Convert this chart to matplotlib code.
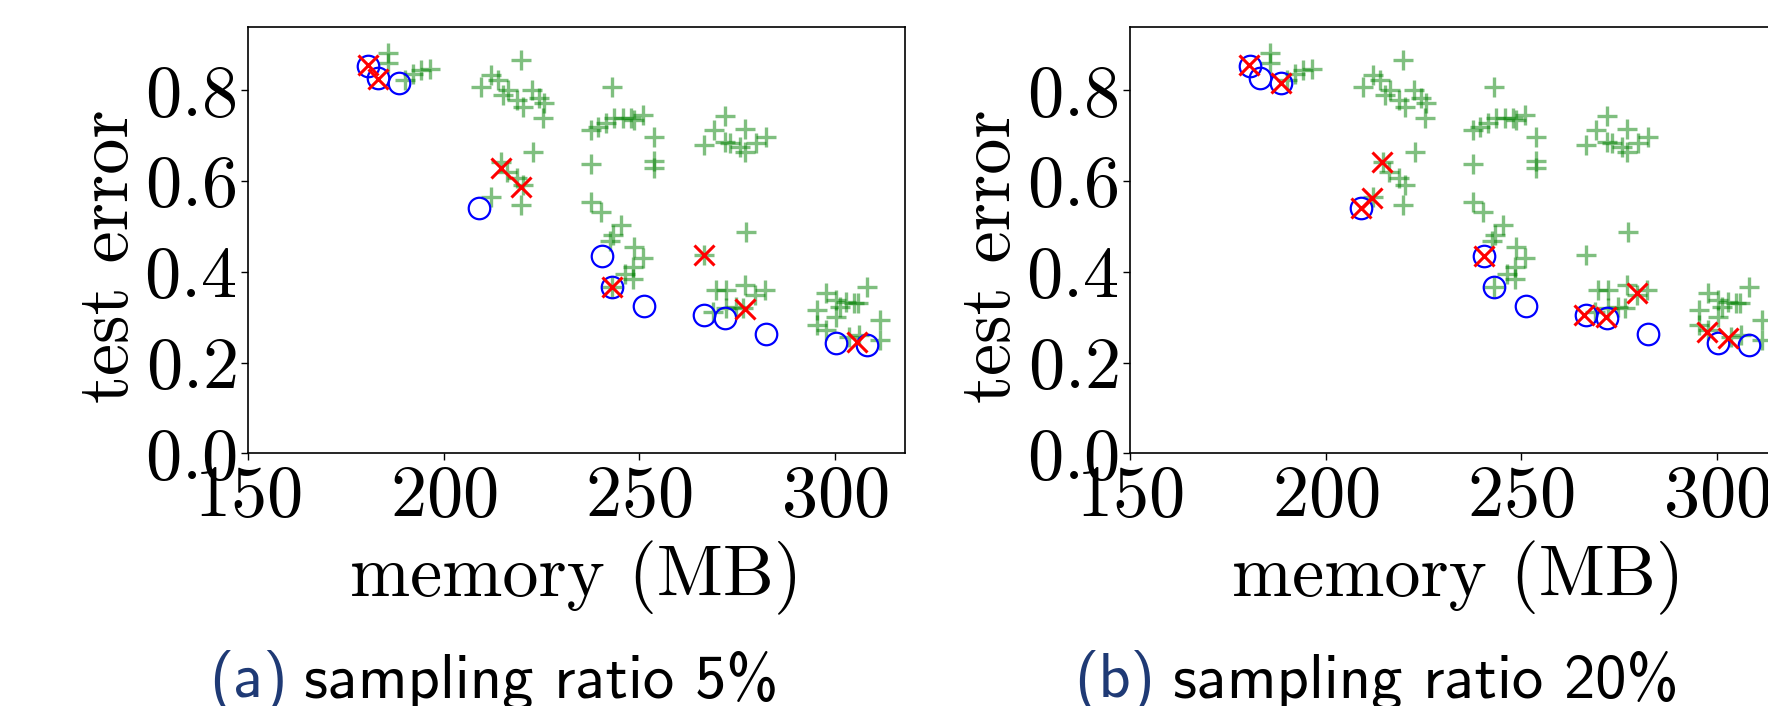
import matplotlib
matplotlib.use("Agg")
import matplotlib.pyplot as plt

# ---- data ----
green_mem = [185.8, 185.8, 192.2, 194.3, 196.6, 190.1,
             219.9, 209.5, 212.1, 213.8, 215.1, 216.4, 218.9, 220.2, 222.7, 224.4, 225.7, 225.5,
             222.8, 214.6, 216.2, 218.8, 220.3, 219.9, 212.2,
             243.1, 237.7, 239.4, 241.5, 243.7, 245.8, 247.9, 248.8, 251.0, 253.9, 253.9, 253.9, 237.7,
             237.7, 240.3, 245.4, 243.3, 242.5, 248.8, 250.9, 248.4, 246.3, 248.4, 243.1,
             271.9, 269.1, 266.5, 271.9, 273.3, 277.2, 277.2, 275.7, 279.9, 282.5,
             277.4, 266.5, 269.7, 272.3, 277.1, 279.7, 282.2, 272.3, 274.8, 268.8, 276.7,
             297.8, 300.3, 302.9, 305.9, 308.4, 295.6, 300.3, 295.6, 297.9, 303.8, 306.3, 311.7, 311.7, 301.3, 305.0]
green_err = [0.881, 0.859, 0.835, 0.844, 0.846, 0.822,
             0.866, 0.807, 0.833, 0.822, 0.789, 0.800, 0.778, 0.763, 0.800, 0.782, 0.771, 0.738,
             0.664, 0.642, 0.620, 0.606, 0.591, 0.547, 0.565,
             0.806, 0.712, 0.719, 0.727, 0.738, 0.738, 0.738, 0.734, 0.745, 0.697, 0.644, 0.628, 0.637,
             0.554, 0.532, 0.503, 0.481, 0.468, 0.455, 0.430, 0.411, 0.396, 0.385, 0.366,
             0.743, 0.712, 0.679, 0.686, 0.684, 0.714, 0.664, 0.675, 0.683, 0.696,
             0.488, 0.437, 0.360, 0.360, 0.371, 0.349, 0.360, 0.319, 0.323, 0.312, 0.320,
             0.352, 0.338, 0.334, 0.330, 0.367, 0.316, 0.301, 0.283, 0.272, 0.257, 0.261, 0.294, 0.250, 0.323, 0.330]

blue_mem = [180.6, 183.3, 188.7, 209.1, 240.5, 243.1, 251.2, 266.5, 271.9, 282.5, 300.4, 308.4]
blue_err = [0.854, 0.826, 0.815, 0.540, 0.435, 0.366, 0.324, 0.304, 0.297, 0.262, 0.244, 0.239]

red5_mem = [180.6, 183.2, 214.6, 219.9, 243.1, 266.5, 277.1, 305.7]
red5_err = [0.855, 0.825, 0.628, 0.587, 0.366, 0.437, 0.318, 0.246]

red20_mem = [180.4, 188.5, 214.5, 211.8, 209.1, 240.4, 266.2, 271.6, 279.7, 297.5, 302.8]
red20_err = [0.855, 0.815, 0.642, 0.562, 0.540, 0.435, 0.304, 0.300, 0.354, 0.268, 0.253]

x_ticks = [150, 200, 250, 300]
y_ticks = [0.0, 0.2, 0.4, 0.6, 0.8]
captions = [("(a)", "sampling ratio 5%"), ("(b)", "sampling ratio 20%")]

plt.rcParams['font.family'] = ['cmr10']
plt.rcParams['axes.formatter.use_mathtext'] = True
plt.rcParams['mathtext.fontset'] = 'cm'

W, H = 1768, 706
fig = plt.figure(figsize=(W / 100, H / 100), dpi=100)

ax_w = 657 / W
ax_h = 426.3 / H
ax_b = (H - 453.3) / H
lefts = [248 / W, 1130 / W]
reds = [(red5_mem, red5_err), (red20_mem, red20_err)]
cap_pos = [(209.5, 304), (1074, 1173)]

for i in range(2):
    ax = fig.add_axes([lefts[i], ax_b, ax_w, ax_h])
    ax.plot(green_mem, green_err, linestyle='none', marker='+', color='green',
            alpha=0.5, markersize=15, markeredgewidth=2.4)
    ax.plot(blue_mem, blue_err, linestyle='none', marker='o', markerfacecolor='none',
            markeredgecolor='blue', markersize=15.5, markeredgewidth=1.6)
    ax.plot(reds[i][0], reds[i][1], linestyle='none', marker='x', color='red',
            markersize=14.5, markeredgewidth=2.2)
    ax.set_xlim(150, 318)
    ax.set_ylim(0, 0.939)
    ax.set_xticks(x_ticks)
    ax.set_yticks(y_ticks)
    ax.tick_params(labelsize=52, length=5, width=1)
    ax.set_xlabel('memory (MB)', fontsize=52, labelpad=8)
    ax.set_ylabel('test error', fontsize=52)
    ax.yaxis.set_label_coords(-106 / 657, 0.463)
    for s in ax.spines.values():
        s.set_linewidth(1.2)
    c1, c2 = captions[i]
    x1, x2 = cap_pos[i]
    fig.text(x1 / W, 9 / H, c1, fontsize=45, family='cmss10', color='#1f3a75',
             ha='left', va='baseline')
    fig.text(x2 / W, 9 / H, c2, fontsize=45, family='cmss10', color='black',
             ha='left', va='baseline')

fig.savefig('out.png', dpi=100)
